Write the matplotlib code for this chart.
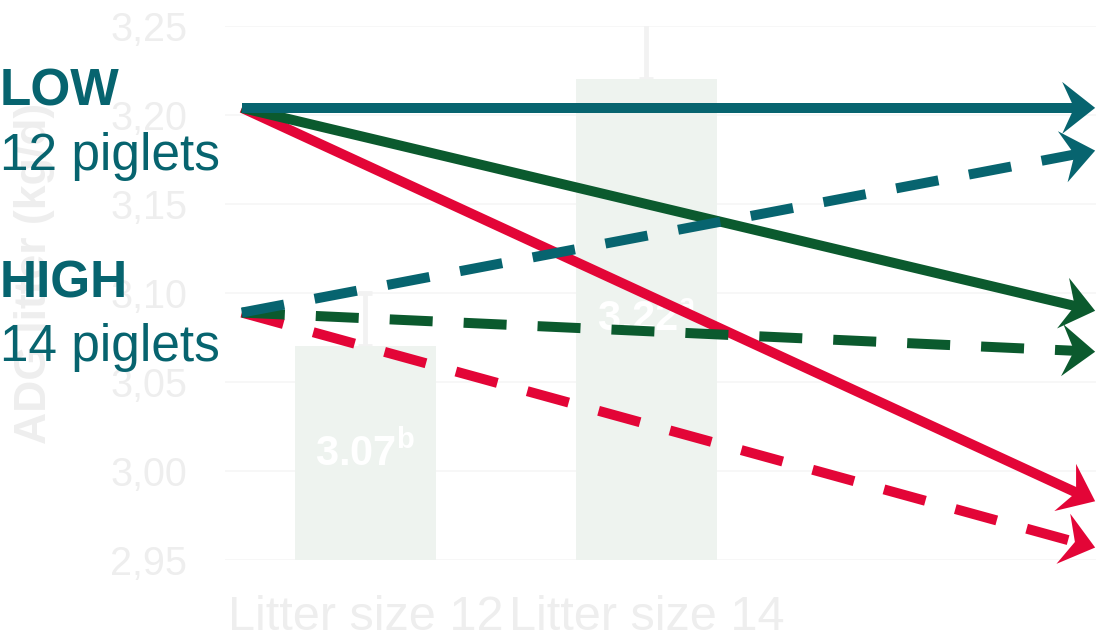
import numpy as np
import matplotlib

matplotlib.use("Agg")
import matplotlib.pyplot as plt
from matplotlib.patches import Polygon

plt.rcParams["font.family"] = ["Liberation Sans", "DejaVu Sans"]
plt.rcParams["mathtext.fontset"] = "custom"
plt.rcParams["mathtext.rm"] = "Liberation Sans"
plt.rcParams["mathtext.bf"] = "Liberation Sans:bold"

# background bar chart (faded)
categories = ["Litter size 12", "Litter size 14"]
adg = [3.07, 3.22]
adg_err = [0.03, 0.032]
letters = ["b", "a"]
y_ticks = [2.95, 3.00, 3.05, 3.10, 3.15, 3.20, 3.25]

# trend arrows: start at the left, tips at the right edge
arrow_x = [-0.44, 2.597]
low_start = 3.204
high_start = 3.089
low_ends = {"teal": 3.204, "green": 3.090, "red": 2.983}
high_ends = {"teal": 3.180, "green": 3.067, "red": 2.957}

TEAL = "#07646F"
GREEN = "#0B5A2E"
RED = "#E30537"
FAINT = "#EEEEEE"
BAR = "#EEF3EF"

fig = plt.figure(figsize=(10.96, 6.37), dpi=100)
ax = fig.add_axes([225 / 1096, 77 / 637, 871 / 1096, 534 / 637])

x = np.arange(len(categories))
ax.bar(x, adg, width=0.5, color=BAR, zorder=2)
ax.errorbar(x, adg, yerr=[[0] * len(adg), adg_err], fmt="none",
            ecolor="#F2F2F2", elinewidth=3.4, capsize=4.7, capthick=3.4,
            zorder=1)
ax.set_xlim(-0.5, 2.6)
ax.set_ylim(y_ticks[0], y_ticks[-1])

for xi, v, letter in zip(x, adg, letters):
    ax.text(xi, (y_ticks[0] + v) / 2, rf"$\mathbf{{{v:.2f}}}^{{\mathbf{{{letter}}}}}$",
            ha="center", va="center", color="white", fontsize=30, zorder=3)

ax.set_yticks(y_ticks)
ax.set_yticklabels([f"{t:.2f}".replace(".", ",") for t in y_ticks])
ax.set_xticks(x)
ax.set_xticklabels(categories)
ax.tick_params(axis="y", length=0, pad=27, labelsize=28.5, labelcolor=FAINT)
ax.tick_params(axis="x", length=0, pad=25, labelsize=35, labelcolor=FAINT)
ax.yaxis.grid(True, color="#F6F6F6", linewidth=1.2, zorder=0)
ax.set_axisbelow(True)
for s in ax.spines.values():
    s.set_visible(False)

fig.text(35 / 1096, 1 - 273 / 637, "ADG litter (kg/d)", rotation=90,
         ha="center", va="center", fontsize=32, fontweight="bold", color=FAINT)


def arrow(y0, y1, color, dashed, z):
    tr = ax.transData
    p0 = tr.transform((arrow_x[0], y0))
    p1 = tr.transform((arrow_x[1], y1))
    u = (p1 - p0) / np.hypot(*(p1 - p0))
    n = np.array([-u[1], u[0]])
    base = p1 - u * 33
    head = np.array([p1, base + n * 26, p1 - u * 21, base - n * 26])
    end = tr.inverted().transform(p1 - u * 18)
    ls = (0, (4.3, 3.1)) if dashed else "-"
    ax.plot([arrow_x[0], end[0]], [y0, end[1]], color=color, lw=7.2, ls=ls,
            solid_capstyle="butt", dash_capstyle="butt", clip_on=False,
            zorder=z)
    ax.add_patch(Polygon(tr.inverted().transform(head), closed=True,
                         facecolor=color, edgecolor="none", clip_on=False,
                         zorder=z))


colors = {"teal": TEAL, "green": GREEN, "red": RED}
order = [("red", False), ("red", True), ("green", False), ("green", True),
         ("teal", False), ("teal", True)]
for z, (name, dashed) in enumerate(order, start=5):
    if dashed:
        arrow(high_start, high_ends[name], colors[name], True, z)
    else:
        arrow(low_start, low_ends[name], colors[name], False, z)

for label, base_y, weight in [("LOW", 105, "bold"), ("12 piglets", 170, "normal"),
                              ("HIGH", 297, "bold"), ("14 piglets", 361, "normal")]:
    fig.text(0, 1 - base_y / 637, label, ha="left", va="baseline", fontsize=37,
             fontweight=weight, color=TEAL, zorder=20)

fig.savefig("out.png", dpi=100)
